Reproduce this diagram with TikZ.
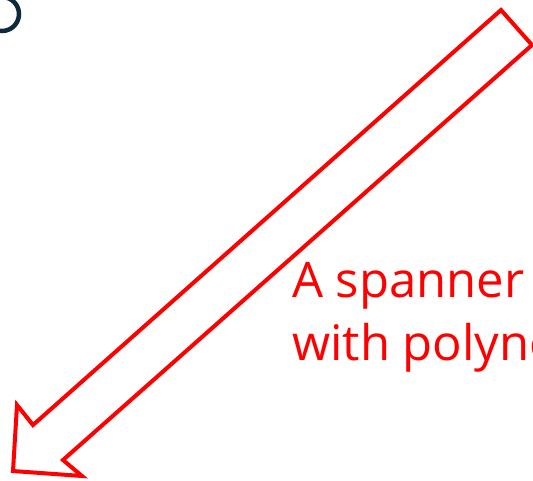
\documentclass[tikz,border=0pt]{standalone}
\usepackage{fontspec}
\setmainfont{Open Sans}
\usetikzlibrary{positioning}
\definecolor{navy}{HTML}{0E2A3A}

\begin{document}
\begin{tikzpicture}[x=1pt,y=-1pt,line join=miter,
                    spanner/.style={draw=red,line width=4pt},
                    note/.style={text=red,font=\fontsize{49}{63}\selectfont,
                                 anchor=base west,inner sep=0pt}]

\useasboundingbox (0,0) rectangle (533,480);
\clip (0,0) rectangle (533,480);

\node[circle,draw=navy,line width=4.5pt,minimum size=34pt] (dot) at (2,14) {};

% block arrow pointing down-left
\draw[spanner] (501,10) -- (532,45) -- (63,460) -- (82,476)
               -- (13,471) -- (17,405) -- (33,425) -- cycle;

\node[note] (first)  at (292,297) {A spanner};
\node[note] (second) at ([yshift=-63pt]first.base west) {with polyno};

\end{tikzpicture}
\end{document}
